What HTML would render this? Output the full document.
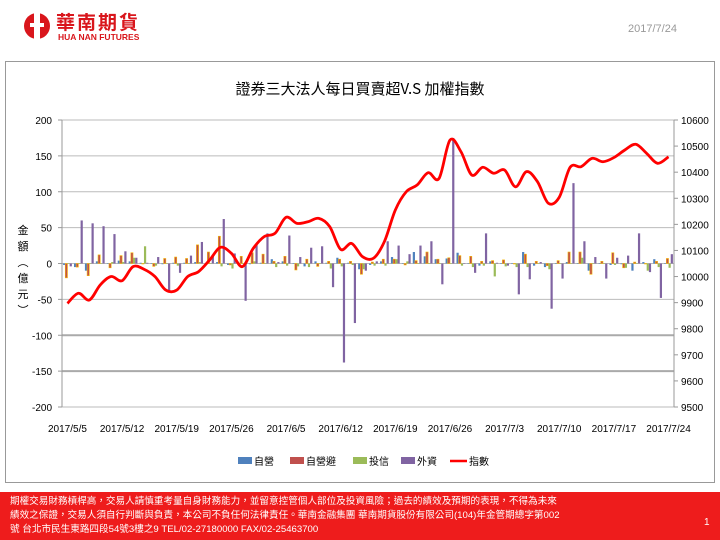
<!DOCTYPE html>
<html><head><meta charset="utf-8"><style>
body{margin:0;width:720px;height:540px;background:#fff;overflow:hidden;position:relative;font-family:"Liberation Sans","Noto Sans CJK TC",sans-serif}
.abs{position:absolute}
</style></head><body>
<div class="abs" style="left:22px;top:10px;width:140px;height:34px">
<svg width="140" height="34"><circle cx="15" cy="16" r="13" fill="#d9161c"/><rect x="12" y="3" width="6" height="27" fill="#fff"/><rect x="8" y="13" width="14" height="4" fill="#fff"/></svg>
<div class="abs" style="left:34px;top:-2px;font-size:19px;font-weight:bold;color:#d9161c;letter-spacing:2px;font-family:'Noto Sans CJK TC',sans-serif">華南期貨</div>
<div class="abs" style="left:36px;top:22px;font-size:8.5px;font-weight:bold;color:#d9161c;white-space:nowrap">HUA NAN FUTURES</div>
</div>
<div class="abs" style="left:628px;top:23px;font-size:11px;color:#999">2017/7/24</div>
<div class="abs" style="left:5px;top:61px;width:710px;height:422px;border:1px solid #999;box-sizing:border-box"></div>
<div class="abs" style="left:0;top:78px;width:720px;text-align:center;font-size:15px;color:#000;font-family:'Noto Sans CJK TC',sans-serif">證券三大法人每日買賣超V.S 加權指數</div>
<div class="abs" style="left:16px;top:222px;width:14px;font-size:11px;line-height:16px;text-align:center;font-family:'Noto Sans CJK TC',sans-serif">金<br>額<br>︵<br>億<br>元<br>︶</div>
<svg class="abs" style="left:0;top:0" width="720" height="540" id="chart"></svg>
<div class="abs" style="left:0;top:492px;width:720px;height:48px;background:#ee1c1c;color:#fff;font-size:9.6px;line-height:14px;padding:3px 0 0 10px;box-sizing:border-box;font-family:'Liberation Sans','Noto Sans CJK TC',sans-serif">期權交易財務槓桿高，交易人請慎重考量自身財務能力，並留意控管個人部位及投資風險；過去的績效及預期的表現，不得為未來<br>績效之保證，交易人須自行判斷與負責，本公司不負任何法律責任。華南金融集團 華南期貨股份有限公司(104)年金管期總字第002<br>號 台北市民生東路四段54號3樓之9 TEL/02-27180000 FAX/02-25463700</div>
<div class="abs" style="left:704px;top:517px;color:#fff;font-size:10px">1</div>
<script>
const dates=["2017/5/5","2017/5/12","2017/5/19","2017/5/26","2017/6/5","2017/6/12","2017/6/19","2017/6/26","2017/7/3","2017/7/10","2017/7/17","2017/7/24"];
const dealer=[-2,-5,-10,3,0,4,3,1,0,-1,1,1,2,0,2,-2,0,-1,1,6,3,0,-4,3,1,8,1,-8,-2,3,9,0,16,10,6,7,15,0,-3,3,0,0,16,-3,-5,0,2,0,-10,0,-2,-1,-10,2,6,0];
const hedge=[-20,-5,-17,12,-6,11,15,0,-4,7,9,7,26,16,38,-2,10,15,13,3,10,-9,6,-4,3,6,3,-15,2,6,6,-2,4,16,6,8,11,10,3,4,5,0,13,3,-3,4,16,16,-15,3,15,-6,2,0,3,7];
const trust=[0,0,0,0,2,2,8,24,-3,0,-3,0,2,0,-4,-7,0,3,0,-5,-3,-4,-5,0,-7,-4,-2,-8,-3,-3,6,3,0,0,0,0,-3,-5,-3,-18,-4,-5,-5,0,-8,0,0,8,0,0,-2,-6,0,-10,-5,-6];
const foreign=[-4,60,56,52,41,17,8,1,9,-38,-13,11,30,12,62,14,-52,26,42,2,39,9,22,24,-33,-138,-83,-10,3,31,25,13,25,31,-29,175,0,-13,42,1,-3,-43,-22,2,-63,-21,112,31,9,-21,8,11,42,-12,-48,13];
const index=[9897,9936,9910,9968,10000,9984,10038,10028,10000,9948,9948,10000,10019,10063,10112,10089,10038,10108,10153,10166,10227,10204,10210,10223,10191,10104,10127,10076,10070,10134,10255,10325,10351,10398,10376,10523,10479,10389,10419,10396,10408,10344,10402,10364,10281,10304,10419,10421,10453,10440,10456,10485,10507,10472,10434,10459];
const leftTicks=[200,150,100,50,0,-50,-100,-150,-200];
const rightTicks=[10600,10500,10400,10300,10200,10100,10000,9900,9800,9700,9600,9500];
const NS="http://www.w3.org/2000/svg";
const svg=document.getElementById('chart');
const X0=62,X1=674,Y0=120,Y1=407,N=foreign.length,cw=(X1-X0)/N;
const yL=v=>Y0+(200-v)/400*(Y1-Y0);
const yR=v=>Y0+(10600-v)/1100*(Y1-Y0);
const xc=i=>X0+cw*(i+0.5);
function mk(t,a){const e=document.createElementNS(NS,t);for(const k in a)e.setAttribute(k,a[k]);svg.appendChild(e);return e;}
leftTicks.forEach(v=>{const g=mk('line',{x1:X0,x2:X1,y1:yL(v),y2:yL(v),stroke:(v==-100||v==-150)?'#aaa':'#bbb','stroke-width':(v==-100||v==-150)?2:1});


const t=mk('text',{x:52,y:yL(v)+4,'text-anchor':'end','font-size':10,fill:'#000'});t.textContent=v;


mk('line',{x1:X0-4,x2:X0,y1:yL(v),y2:yL(v),stroke:'#999'});});
rightTicks.forEach(v=>{const t=mk('text',{x:681,y:yR(v)+4,'font-size':10,fill:'#000'});t.textContent=v;


mk('line',{x1:X1,x2:X1+4,y1:yR(v),y2:yR(v),stroke:'#999'});});
mk('line',{x1:X0,x2:X0,y1:Y0,y2:Y1,stroke:'#999'});
mk('line',{x1:X1,x2:X1,y1:Y0,y2:Y1,stroke:'#999'});
dates.forEach((d,k)=>{const t=mk('text',{x:xc(k*5),y:432,'text-anchor':'middle','font-size':10,fill:'#000'});t.textContent=d;

});
const series=[[dealer,'#4f81bd','bar-dealer'],[hedge,'#c0504d','bar-dealer-hedge'],[trust,'#9bbb59','bar-trust'],[foreign,'#8064a2','bar-foreign']];
const bw=2.2;
series.forEach((s,j)=>{s[0].forEach((v,i)=>{const x=xc(i)-4.4+j*bw;const y=Math.min(yL(v),yL(0));const h=Math.abs(yL(v)-yL(0));
const r=mk('rect',{x:x,y:y,width:bw,height:Math.max(h,0.5),fill:s[1]});
if(j==1){r.setAttribute('stroke','#f5b800');r.setAttribute('stroke-width','0.6');}

});});
const pts=index.map((v,i)=>[xc(i),yR(v)]);
let d='M'+pts[0][0]+' '+pts[0][1];
for(let i=0;i<pts.length-1;i++){const p0=pts[i-1]||pts[i],p1=pts[i],p2=pts[i+1],p3=pts[i+2]||p2;
d+=` C${p1[0]+(p2[0]-p0[0])/6} ${p1[1]+(p2[1]-p0[1])/6} ${p2[0]-(p3[0]-p1[0])/6} ${p2[1]-(p3[1]-p1[1])/6} ${p2[0]} ${p2[1]}`;}
const ln=mk('path',{d:d,fill:'none',stroke:'#ff0000','stroke-width':2.8,'stroke-linejoin':'round'});


const leg=[['#4f81bd','自營',238],['#c0504d','自營避',290],['#9bbb59','投信',353],['#8064a2','外資',401]];
leg.forEach(l=>{const r=mk('rect',{x:l[2],y:457,width:14,height:7,fill:l[0]});


const t=mk('text',{x:l[2]+16,y:465,'font-size':10,fill:'#000'});t.textContent=l[1];

});
mk('line',{x1:450,x2:467,y1:461,y2:461,stroke:'#ff0000','stroke-width':2.5});
const lt=mk('text',{x:469,y:465,'font-size':10,fill:'#000'});lt.textContent='指數';


</script>
</body></html>
